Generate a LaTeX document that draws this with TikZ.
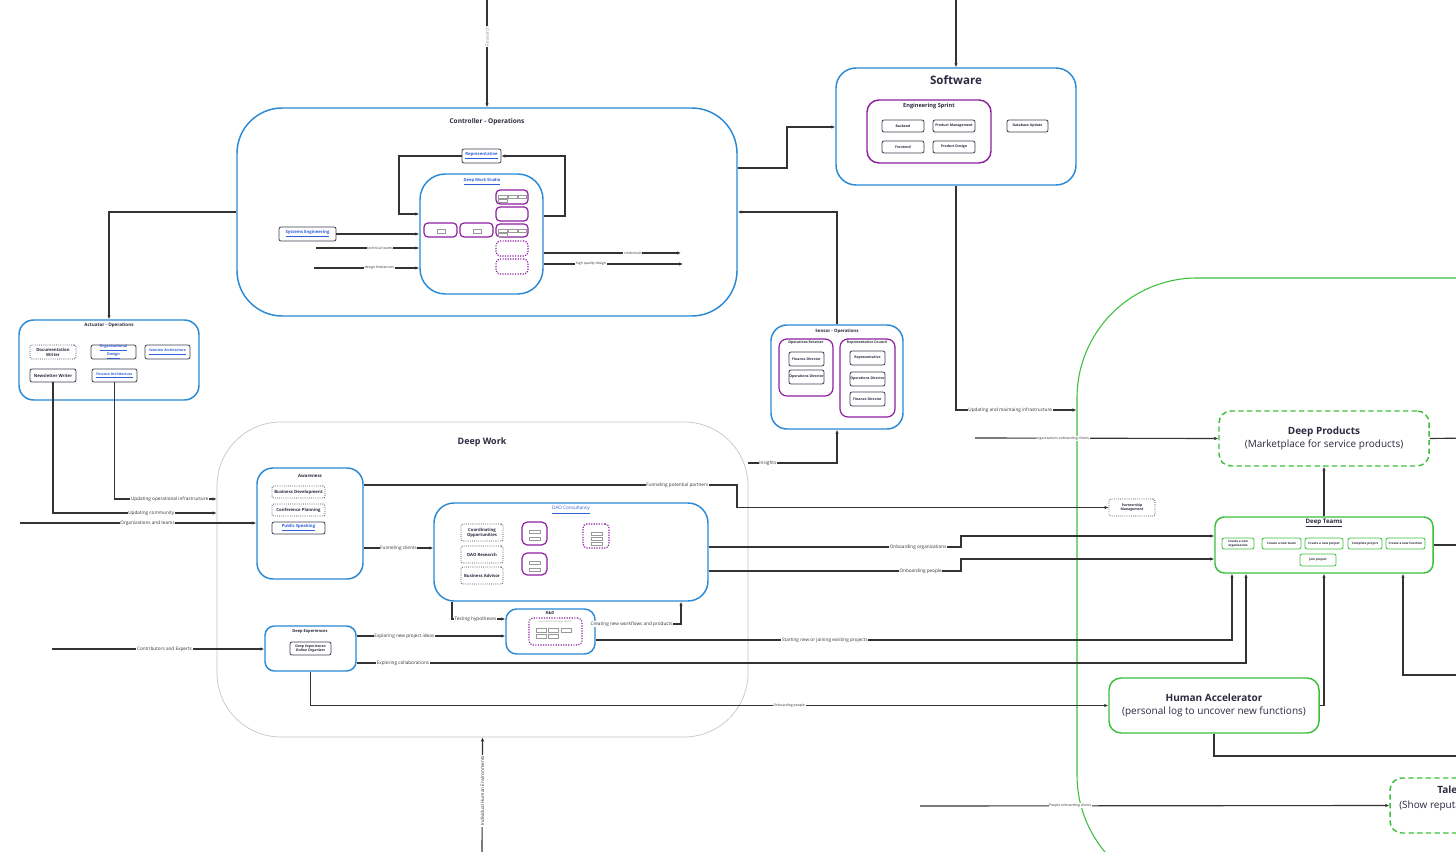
\documentclass[tikz,border=0pt]{standalone}
\usepackage{fontspec}
\setmainfont{Open Sans}
\usetikzlibrary{arrows.meta}
\definecolor{cblue}{HTML}{2B8AD6}
\definecolor{cpurple}{HTML}{8E1FA0}
\definecolor{cgreen}{HTML}{3CBF3C}
\definecolor{cdark}{HTML}{3C3C50}
\definecolor{ctext}{HTML}{2A2A40}
\definecolor{clink}{HTML}{2F5FD8}
\definecolor{cline}{HTML}{333333}
\definecolor{cgray}{HTML}{C4C4C4}
\definecolor{ctiny}{HTML}{9A9A9A}
\newcommand{\bx}[7]{\node[#1, minimum width={(#5-#3)*0.75pt}, minimum height={(#6-#4)*0.75pt}] (#2) at ({(#3+#5)/2},{(#4+#6)/2}) {#7};}
\newcommand{\lk}[1]{\textcolor{clink}{\underline{#1}}}
\newcommand{\tb}[4]{\draw[ctiny, line width=0.25pt] (#1,#2) rectangle (#3,#4);}
\begin{document}
\begin{tikzpicture}[x=0.75pt,y=-0.75pt,
 cont/.style={draw=cblue, line width=1.1pt, rounded corners=#1, inner sep=0pt},
 cont/.default=12pt,
 pur/.style={draw=cpurple, line width=0.9pt, rounded corners=#1, inner sep=0pt},
 pur/.default=3pt,
 purdot/.style={pur, densely dotted},
 dk/.style={draw=cdark, line width=0.6pt, rounded corners=1.5pt, inner sep=0pt, align=center, text=ctext, font=\fontsize{2.6}{3.1}\selectfont\bfseries},
 dkdot/.style={dk, densely dotted},
 f32/.style={font=\fontsize{3.2}{3.8}\selectfont\bfseries},
 gr/.style={draw=cgreen, line width=0.6pt, rounded corners=1.5pt, inner sep=0pt, align=center, text=ctext, font=\fontsize{2.3}{2.8}\selectfont\bfseries},
 gbig/.style={draw=cgreen, line width=1.1pt, rounded corners=9pt, inner sep=0pt, align=center, text=ctext, font=\fontsize{7.5}{10}\selectfont},
 gbigdash/.style={gbig, dash pattern=on 4pt off 2.5pt},
 ttl/.style={inner sep=0pt, text=ctext, font=\fontsize{#1}{#1}\selectfont\bfseries},
 ttl/.default=3.3,
 conn/.style={draw=cline, line width=0.85pt, -{Latex[length=3pt,width=2.6pt]}},
 plain/.style={draw=cline, line width=0.85pt},
 lbl/.style={fill=white, inner sep=0.5pt, text=cline, font=\fontsize{3.5}{4}\selectfont},
 lbls/.style={lbl, font=\fontsize{2.6}{3}\selectfont},
]
\useasboundingbox (0,0) rectangle (1456,852);
\clip (0,0) rectangle (1456,852);
\fill[white] (0,0) rectangle (1456,852);

% ---------- big background regions ----------
\bx{draw=cgreen, line width=0.8pt, rounded corners=90pt, inner sep=0pt}{green}{1077}{278}{1600}{895}{}
\bx{draw=cgray, line width=0.5pt, rounded corners=48pt, inner sep=0pt}{dw}{217}{422}{748}{737}{}
\node[ttl=6.7] (dwT) at (482,442) {Deep Work};

% ---------- Controller ----------
\bx{cont=34pt}{ctrl}{237}{108}{737}{316}{}
\node[ttl=4.9] (ctrlT) at (487,122) {Controller - Operations};
\bx{dk,f32}{rep}{462}{149}{501}{163}{\lk{Representative}}
\bx{cont=19pt}{dws}{420}{174}{543}{294}{}
\node[ttl=3.1] (dwsT) at (482,182) {\lk{Deep Work Studio}};
\bx{pur}{p1}{424}{223}{457}{237}{}
\bx{pur}{p2}{460}{223}{493}{237}{}
\bx{pur}{p3}{496}{190}{528}{204}{}
\bx{pur}{p4}{496}{207}{528}{221}{}
\bx{pur}{p5}{496}{224}{528}{237}{}
\bx{purdot}{p6}{496}{241}{528}{256}{}
\bx{purdot}{p7}{496}{259}{528}{274}{}
\tb{437}{229}{445}{233}\tb{473}{229}{481}{233}
\tb{498}{195}{507}{198}\tb{508}{195}{517}{198}\tb{518}{195}{526}{198}\tb{498}{199}{507}{202}
\tb{498}{229}{507}{232}\tb{508}{229}{517}{232}\tb{518}{229}{526}{232}\tb{498}{233}{507}{236}
\bx{dk,f32}{syse}{279}{227}{336}{241}{\lk{Systems Engineering}}

\draw[conn] (rep.west) -| (399,214) -- (dws.west |- 0,214);
\draw[conn] (dws.east |- 0,216) -| (565,156) -- (rep.east);
\draw[conn] (syse.east) -- (dws.west |- syse.east);
\coordinate (tt0) at (316,248);
\draw[conn] (tt0) -- node[lbls,pos=0.62]{technical teams} (dws.west |- tt0);
\coordinate (df0) at (314,268);
\draw[conn] (df0) -- node[lbls,pos=0.62]{design freelancers} (dws.west |- df0);
\coordinate (cr1) at (681,253);
\draw[conn] (dws.east |- cr1) -- node[lbls,pos=0.65]{credentials} (cr1);
\coordinate (hq1) at (683,264);
\draw[conn] (dws.east |- hq1) -- node[lbls,pos=0.34]{high quality design} (hq1);
\coordinate (res0) at (487,-2);
\draw[conn] (res0) -- node[lbl,rotate=90,pos=0.35,text=ctiny]{Research} (ctrl.north);

% ---------- Software ----------
\bx{cont=15pt}{sw}{836}{68}{1076}{185}{}
\node[ttl=8.7] (swT) at (956,80) {Software};
\bx{pur=9pt, line width=1.1pt}{es}{867}{100}{991}{163}{}
\node[ttl=4.2] (esT) at (929,106) {Engineering Sprint};
\bx{dk}{be}{882}{120}{924}{132}{Backend}
\bx{dk}{pm1}{933}{120}{975}{132}{Product Management}
\bx{dk}{fe}{882}{141}{924}{153}{Frontend}
\bx{dk}{pd}{933}{141}{975}{153}{Product Design}
\bx{dk}{du}{1007}{120}{1048}{132}{Database Update}
\coordinate (sw0) at (956,-2);
\draw[conn] (sw0) -- (sw.north);
\draw[conn] (ctrl.east |- 0,168) -| (787,127) -- (sw.west |- 0,127);
\draw[conn] (sw.south) |- node[lbl,pos=0.725]{Updating and maintaing infrastructure} (green.west |- 0,410);

% ---------- Sensor ----------
\bx{cont=12pt}{sen}{771}{325}{903}{429}{}
\node[ttl=3.3] (senT) at (837,331) {Sensor - Operations};
\bx{pur=6pt}{oret}{779}{339}{833}{396}{}
\node[ttl=2.6] (oretT) at (806,343) {Operations Retainer};
\bx{dk}{fd1}{789}{352}{824}{366}{Finance Director}
\bx{dk}{od1}{789}{370}{824}{384}{Operations Director}
\bx{pur=6pt}{rcou}{840}{339}{895}{417}{}
\node[ttl=2.6] (rcouT) at (867,343) {Representative Council};
\bx{dk}{rep2}{850}{351}{885}{365}{Representative}
\bx{dk}{od2}{850}{372}{885}{386}{Operations Director}
\bx{dk}{fd2}{850}{392}{885}{406}{Finance Director}
\draw[conn] (sen.north) |- (ctrl.east);

% ---------- Actuator ----------
\bx{cont=11pt}{act}{19}{320}{199}{400}{}
\node[ttl=3.4] (actT) at (109,325) {Actuator - Operations};
\bx{dkdot,f32}{docw}{30}{345}{76}{359}{Documentation\\Writer}
\bx{dk,font=\fontsize{2.8}{3.5}\selectfont\bfseries}{orgd}{91}{345}{136}{359}{\lk{Organizational}\\\lk{Design}}
\bx{dk}{sola}{145}{345}{190}{359}{\lk{Solution Architecture}}
\bx{dk,f32}{nlw}{30}{369}{76}{382}{Newsletter Writer}
\bx{dk}{fina}{92}{369}{137}{382}{\lk{Finance Architecture}}
\draw[conn] (ctrl.west) -| (act.north);

% ---------- Awareness ----------
\bx{cont=12pt}{aw}{257}{468}{363}{579}{}
\node[ttl=3.3] (awT) at (310,476) {Awareness};
\bx{dkdot,f32}{bdev}{272}{486}{325}{498}{Business Development}
\bx{dkdot,f32}{conf}{272}{504}{325}{516}{Conference Planning}
\bx{dk,f32}{pubs}{272}{522}{325}{534}{\lk{Public Speaking}}

\draw[conn] (nlw.south) |- node[lbl,pos=0.8]{Updating community} (dw.west |- 0,513);
\draw[conn] (fina.south) |- node[lbl,pos=0.77]{Updating operational infrastructure} (dw.west |- 0,499);
\coordinate (ot0) at (20,523);
\draw[conn] (ot0) -- node[lbl,pos=0.54]{Organizations and teams} (aw.west |- ot0);

% ---------- DAO Consultancy ----------
\bx{cont=15pt}{dao}{434}{503}{708}{601}{}
\node[inner sep=0pt, font=\fontsize{3.5}{4}\selectfont] (daoT) at (571,510) {\lk{DAO Consultancy}};
\bx{dkdot,f32}{coop}{461}{524}{503}{541}{Coordinating\\Opportunities}
\bx{dkdot,f32}{daor}{461}{546}{503}{563}{DAO Research}
\bx{dkdot,f32}{bady}{461}{567}{503}{584}{Business Advisor}
\bx{pur=4pt}{dp1}{522}{522}{547}{545}{}
\bx{pur=4pt}{dp2}{522}{553}{547}{575}{}
\bx{purdot=4pt}{dp3}{583}{524}{609}{548}{}
\tb{529}{530}{540}{533}\tb{529}{537}{540}{540}
\tb{529}{561}{540}{564}\tb{529}{568}{540}{571}
\tb{591}{532}{602}{535}\tb{591}{537}{602}{540}\tb{591}{542}{602}{545}
\draw[conn] (aw.east |- 0,548) -- node[lbl]{Funneling clients} (dao.west |- 0,548);

% ---------- R&D ----------
\bx{cont=8pt}{rd}{506}{609}{595}{654}{}
\node[ttl=3] (rdT) at (550,613) {R\&D};
\bx{purdot=5pt, line width=0.8pt}{lcps}{529}{618}{582}{645}{}
\node[inner sep=0pt, text=ctiny, font=\fontsize{2}{2}\selectfont] (lcpsT) at (555,622) {Low Code Prototype Sprint};
\tb{536}{628}{546}{632}\tb{548}{628}{558}{632}\tb{561}{628}{571}{632}
\tb{536}{634}{546}{638}\tb{548}{634}{558}{638}
\draw[conn] (dao.south -| 452,0) |- node[lbl,pos=0.72]{Testing hypotheses} (rd.west |- 0,619);
\draw[conn] (rd.east |- 0,624) -| node[lbl,pos=0.21]{Creating new workflows and products} (dao.south -| 681,0);

% ---------- Deep Experiences ----------
\bx{cont=7pt}{dex}{265}{626}{356}{671}{}
\node[ttl=3] (dexT) at (310,631) {Deep Experiences};
\bx{dk}{deoo}{290}{642}{331}{655}{Deep Experiences\\Online Organizer}
\coordinate (ce0) at (52,649);
\draw[conn] (ce0) -- node[lbl,pos=0.53]{Contributors and Experts} (dex.west |- ce0);
\draw[conn] (dex.east |- 0,636) -- node[lbl,pos=0.32]{Exploring new project ideas} (rd.west |- 0,636);

% ---------- Partnership / Insights ----------
\bx{dkdot}{pm}{1109}{499}{1155}{516}{Partnership\\Management}
\draw[conn] (aw.east |- 0,485) -- node[lbl,pos=0.84]{Funneling potential partners} (737,485) |- (pm.west);
\draw[conn] (dw.east |- 0,463) -| node[lbl,pos=0.11]{Insights} (sen.south);

% ---------- Deep Products / Deep Teams ----------
\bx{gbigdash}{dp}{1219}{411}{1429}{466}{\textbf{Deep Products}\\(Marketplace for service products)}
\coordinate (ooc0) at (975,438);
\draw[conn] (ooc0) -- node[lbls,pos=0.36]{organizations onboarding clients} (dp.west);
\coordinate (dpR) at (1470,438);
\draw[plain] (dp.east) -- (dpR);

\bx{draw=cgreen, line width=1.1pt, rounded corners=7pt, inner sep=0pt}{dt}{1215}{517}{1433}{573}{}
\node[ttl=4.6] (dtT) at (1324,523) {\underline{Deep Teams}};
\bx{gr}{t1}{1222}{538}{1254}{549}{Create a new\\organisation}
\bx{gr}{t2}{1262}{538}{1301}{549}{Create a new team}
\bx{gr}{t3}{1305}{538}{1343}{549}{Create a new project}
\bx{gr}{t4}{1348}{538}{1382}{549}{Complete project}
\bx{gr}{t5}{1386}{538}{1425}{549}{Create a new function}
\bx{gr}{t6}{1300}{554}{1336}{566}{Join project}
\draw[conn] (dt.north) -- (dp.south);
\coordinate (dtR) at (1470,545);
\draw[plain] (dt.east) -- (dtR);
\coordinate (r675) at (1470,675);
\draw[conn] (r675) -| (dt.south -| 1403,0);

\draw[conn] (dao.east |- 0,547) -- node[lbl,pos=0.83]{Onboarding organizations} (961,547) |- (dt.west |- 0,536);
\draw[conn] (dao.east |- 0,571) -- node[lbl,pos=0.84]{Onboarding people} (961,571) |- (dt.west |- 0,559);
\draw[conn] (rd.east |- 0,640) -| node[lbl,pos=0.18]{Starting new or joining existing projects} (dt.south -| 1232,0);
\draw[conn] (dex.east |- 0,663) -| node[lbl,pos=0.026]{Exploring collaborations} (dt.south -| 1246,0);

% ---------- Human Accelerator ----------
\bx{gbig}{ha}{1109}{678}{1319}{733}{\textbf{Human Accelerator}\\(personal log to uncover new functions)}
\draw[conn] (dex.south) |- node[lbls,pos=0.8]{Onboarding people} (ha.west);
\draw[conn] (ha.east) -| (dt.south);
\coordinate (haR) at (1470,756);
\draw[plain] (ha.south) |- (haR);

% ---------- Talent ----------
\bx{gbigdash}{tal}{1390}{778}{1599}{833}{}
\node[anchor=west, inner sep=0pt, text=ctext, font=\fontsize{7.5}{9}\selectfont\bfseries] (talT) at (1437,791) {Talent Marketplace};
\node[anchor=west, inner sep=0pt, text=ctext, font=\fontsize{7.5}{9}\selectfont] (talS) at (1399,806) {(Show reputation and verified skills)};
\coordinate (poc0) at (920,806);
\draw[conn] (poc0) -- node[lbls,pos=0.32]{People onboarding clients} (tal.west);

% ---------- Individual Human Environments ----------
\coordinate (ihe0) at (482,854);
\draw[conn] (ihe0) -- node[lbl,rotate=90,pos=0.54]{Individual Human Environments} (dw.south);
\end{tikzpicture}
\end{document}
